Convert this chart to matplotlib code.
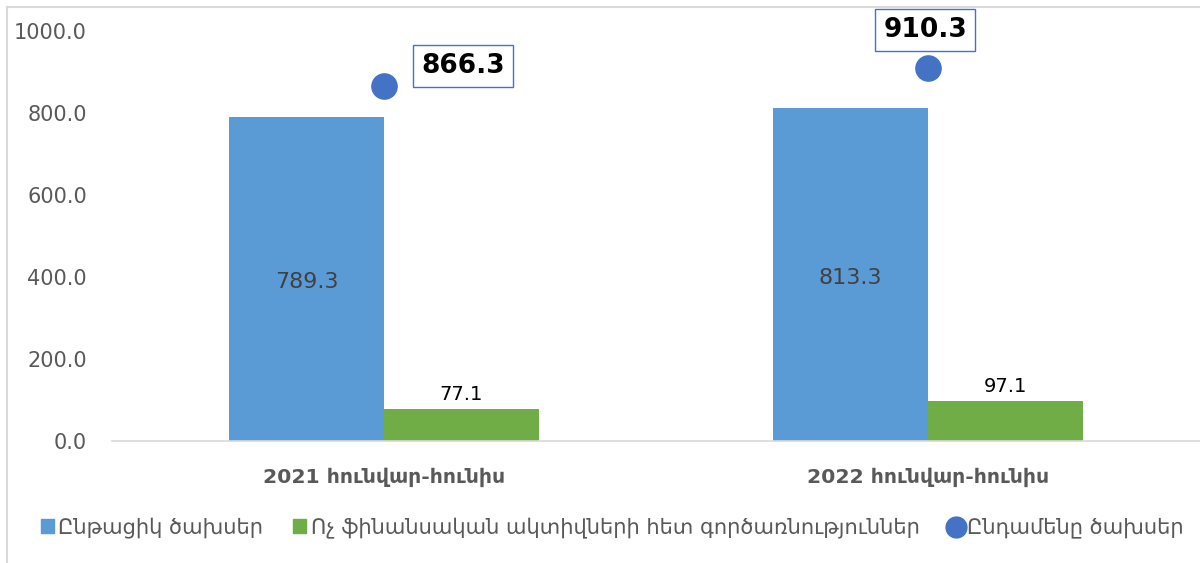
import matplotlib
matplotlib.use('Agg')
import matplotlib.pyplot as plt
from matplotlib.lines import Line2D
from matplotlib.patches import Patch

# -------------------------
# Data
# -------------------------
categories = ['2021 հունվար-հունիս', '2022 հունվար-հունիս']
current_exp = [789.3, 813.3]
nonfin_exp = [77.1, 97.1]
total_exp = [866.3, 910.3]
series_names = ['Ընթացիկ ծախսեր',
                'Ոչ ֆինանսական ակտիվների հետ գործառնություններ',
                'Ընդամենը ծախսեր']
yticks = [0, 200, 400, 600, 800, 1000]

blue = '#5B9BD5'
green = '#70AD47'
dot = '#4472C4'

plt.rcParams['font.family'] = ['DejaVu Sans']

fig = plt.figure(figsize=(12, 5.63), dpi=100)
ax = fig.add_axes([112 / 1200, 1 - 441 / 563, 1 - 112 / 1200, (441 - 31) / 563])

x = list(range(len(categories)))
w = 0.285
ax.bar([i - w / 2 for i in x], current_exp, width=w, color=blue, zorder=2)
ax.bar([i + w / 2 for i in x], nonfin_exp, width=w, color=green, zorder=2)
ax.scatter(x, total_exp, s=330, color=dot, zorder=3, clip_on=False)

for i in x:
    ax.text(i - w / 2, current_exp[i] / 2 - 8, f'{current_exp[i]:.1f}', ha='center', va='center',
            fontsize=16, color='#404040')
    ax.text(i + w / 2, nonfin_exp[i] + 12, f'{nonfin_exp[i]:.1f}', ha='center', va='bottom',
            fontsize=14, color='black')

offsets = [(57, 14), (-2, 27)]
for i in x:
    ax.annotate(f'{total_exp[i]:.1f}', (i, total_exp[i]), xytext=offsets[i],
                textcoords='offset points', ha='center', va='center',
                fontsize=19, fontweight='bold', color='black', annotation_clip=False,
                bbox=dict(boxstyle='square,pad=0.3', fc='white', ec=dot, lw=1))

ax.set_xlim(-0.5, 1.5)
ax.set_ylim(0, 1000)
ax.set_yticks(yticks)
ax.set_yticklabels([f'{v:.1f}' for v in yticks], fontsize=15, color='#595959')
ax.set_xticks(x)
ax.set_xticklabels(categories, fontsize=14.7, fontweight='bold', color='#595959')
ax.tick_params(axis='both', length=0)
ax.tick_params(axis='y', pad=18)
ax.tick_params(axis='x', pad=19)
for s in ['top', 'right', 'left']:
    ax.spines[s].set_visible(False)
ax.spines['bottom'].set_color('#d9d9d9')
ax.spines['bottom'].set_linewidth(1.2)

handles = [Patch(color=blue), Patch(color=green),
           Line2D([], [], marker='o', linestyle='none', color=dot, markersize=15)]
fig.legend(handles, series_names, loc='center', bbox_to_anchor=(0.51, 1 - 528 / 563),
           ncol=3, frameon=False, fontsize=15.1, labelcolor='#595959',
           handlelength=0.65, handleheight=0.65, handletextpad=0.2, columnspacing=1.4)

# border of the chart area
fig.add_artist(Line2D([7 / 1200, 7 / 1200], [0, 1 - 7 / 563], color='#d9d9d9', lw=1.5))
fig.add_artist(Line2D([7 / 1200, 1], [1 - 7 / 563, 1 - 7 / 563], color='#d9d9d9', lw=1.5))

fig.savefig('out.png', dpi=100)
